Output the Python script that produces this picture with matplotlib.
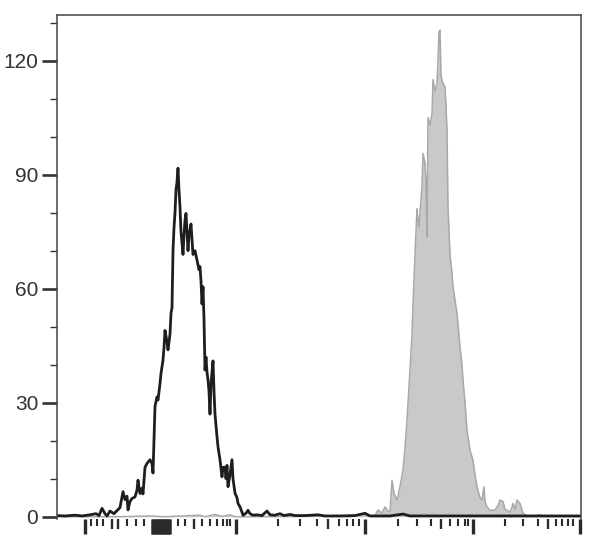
import numpy as np
import matplotlib
matplotlib.use("Agg")
import matplotlib.pyplot as plt

plt.rcParams["font.family"] = ["Liberation Sans", "DejaVu Sans"]

# control histogram (open black line), x in display channels
ctrl_x = [0, 8, 18, 25, 33, 39, 42, 45, 48, 50, 53, 57, 60, 63, 66, 68, 70, 71, 73, 75,
          78, 80, 81, 83, 85, 86, 88, 90, 93, 95, 96, 98, 100, 101, 103, 104, 106, 107, 108, 110,
          111, 113, 114, 115, 116, 117, 118, 119, 120, 121, 122, 123, 124, 125, 126, 127, 128, 129, 130, 131,
          132, 134, 135, 136, 138, 140, 142, 143, 144, 145, 146, 147, 148, 149, 150, 151, 152, 153, 154, 155,
          156, 157, 158, 159, 160, 161, 163, 165, 166, 168, 169, 170, 171, 173, 175, 176, 177, 178, 180, 181,
          183, 185, 186, 189, 191, 193, 196, 200, 205, 210, 213, 218, 223, 227, 233, 238, 248, 261, 268, 283,
          298, 308, 313, 333, 346, 353, 383, 423, 463, 503, 524]
ctrl_y = [0.3, 0.2, 0.4, 0.2, 0.5, 0.8, 0.3, 2.2, 0.8, 0.2, 1.5, 0.8, 1.6, 2.4, 6.6, 4.5, 5.4, 1.8, 4.0, 4.8,
          5.2, 7.0, 9.6, 6.1, 7.5, 6.0, 13.0, 14.0, 15.0, 14.0, 11.5, 29.0, 31.5, 30.7, 35.0, 37.7, 41.2, 44.5, 49.0, 46.0,
          43.9, 48.0, 53.5, 55.0, 70.0, 76.0, 80.0, 86.0, 88.0, 91.7, 86.0, 81.5, 75.0, 72.0, 69.0, 74.0, 78.0, 79.8, 75.0, 70.0,
          74.0, 77.0, 73.0, 69.0, 70.0, 67.5, 65.0, 65.8, 62.0, 56.0, 60.5, 52.0, 38.6, 42.0, 38.0, 36.0, 33.0, 27.0, 35.0, 38.0,
          41.0, 33.0, 27.0, 24.0, 21.0, 18.4, 15.0, 10.5, 13.0, 13.0, 10.0, 13.5, 7.9, 11.0, 15.0, 10.0, 8.0, 6.2, 5.0, 3.5,
          2.6, 1.2, 0.4, 0.9, 1.7, 0.8, 0.4, 0.5, 0.3, 1.5, 0.5, 0.4, 0.8, 0.3, 0.6, 0.3, 0.3, 0.5, 0.2, 0.2,
          0.3, 0.9, 0.2, 0.2, 0.7, 0.2, 0.2, 0.2, 0.2, 0.2, 0.2]

# stained sample (filled gray)
stain_x = [0, 63, 93, 108, 143, 148, 158, 165, 173, 178, 203, 243, 283, 293, 305, 311, 318, 321, 325, 328,
           331, 333, 335, 337, 340, 343, 346, 348, 350, 353, 355, 356, 358, 360, 361, 362, 363, 365, 366, 368,
           369, 370, 371, 373, 375, 376, 378, 380, 381, 382, 383, 384, 386, 388, 389, 390, 391, 393, 395, 396,
           398, 400, 403, 405, 406, 408, 410, 413, 416, 418, 420, 423, 425, 427, 428, 430, 433, 438, 441, 443,
           446, 448, 450, 453, 455, 456, 458, 460, 463, 466, 470, 475, 483, 488, 524]
stain_y = [0, 0, 0.2, 0, 0.4, 0, 0.6, 0.1, 0.5, 0, 0, 0.1, 0.3, 0, 0.8, 0.2, 0.3, 1.8, 1.0, 2.6,
           1.5, 1.3, 9.6, 6.1, 4.4, 7.9, 12.3, 18.0, 25.4, 38.6, 48.0, 56.0, 69.0, 81.0, 78.0, 76.3, 80.0, 86.8, 95.6, 93.0,
           88.0, 73.7, 105.0, 103.0, 106.0, 115.0, 112.0, 114.0, 120.0, 127.6, 128.0, 116.0, 114.0, 113.0, 108.0, 101.7, 81.5, 69.0, 64.0, 60.5,
           57.0, 53.5, 44.7, 40.0, 36.0, 30.0, 22.8, 17.5, 14.9, 11.0, 7.9, 5.0, 4.4, 7.9, 4.0, 2.6, 1.7, 1.7, 3.0, 4.4,
           4.0, 2.0, 1.7, 1.2, 2.5, 3.5, 2.0, 4.4, 3.5, 0.9, 0.3, 0.1, 0.5, 0.1, 0]

y_major = [0, 30, 60, 90, 120]
y_minor = [10, 20, 40, 50, 70, 80, 100, 110, 130]

# x axis ticks (biexponential style, no labels)
x_major = [28, 179, 308, 416, 523]
x_medium = [55, 61, 137, 271, 384, 491]
x_zero = list(np.arange(95, 114, 1.0))
x_minor = [34, 40, 46, 70, 79, 87, 121, 128, 145, 153, 160, 166, 170, 173, 221, 243, 260, 282,
           290, 296, 302, 341, 360, 374, 393, 401, 408, 411, 448, 466, 481, 499, 505, 511, 516]

fig = plt.figure(figsize=(6.08, 5.45), dpi=100)
ax = fig.add_axes([57 / 608, 26 / 545, 524 / 608, 504 / 545])

ax.fill_between(stain_x, stain_y, 0, color="#c9c9c9", lw=0)
ax.plot(stain_x, stain_y, color="#a8a8a8", lw=1.1)
ax.plot(ctrl_x, ctrl_y, color="#1e1e1e", lw=2.0)

ax.set_xlim(0, 524)
ax.set_ylim(-0.6, 132)

for s in ["left", "top", "right"]:
    ax.spines[s].set_color("#444444")
    ax.spines[s].set_linewidth(1.1)
ax.spines["bottom"].set_visible(False)

ax.set_yticks(y_major)
ax.set_yticklabels([str(v) for v in y_major])
ax.set_yticks(y_minor, minor=True)
ax.tick_params(axis="y", which="major", length=10.5, width=1.9, color="#333333",
               labelsize=15, labelcolor="#333333", pad=3)
ax.tick_params(axis="y", which="minor", length=5, width=1.0, color="#333333")

xt = x_major + x_medium + x_zero + x_minor
lens = [11] * len(x_major) + [7.5] * len(x_medium) + [11] * len(x_zero) + [5] * len(x_minor)
wids = [2.4] * len(x_major) + [1.7] * len(x_medium) + [1.8] * len(x_zero) + [1.5] * len(x_minor)
ax.set_xticks(xt)
ax.set_xticklabels([])
ax.tick_params(axis="x", which="major", color="#2a2a2a", pad=2)
for t, L, W in zip(ax.xaxis.get_major_ticks(), lens, wids):
    t.tick1line.set_markersize(L)
    t.tick1line.set_markeredgewidth(W)

fig.savefig("out.png", dpi=100)
